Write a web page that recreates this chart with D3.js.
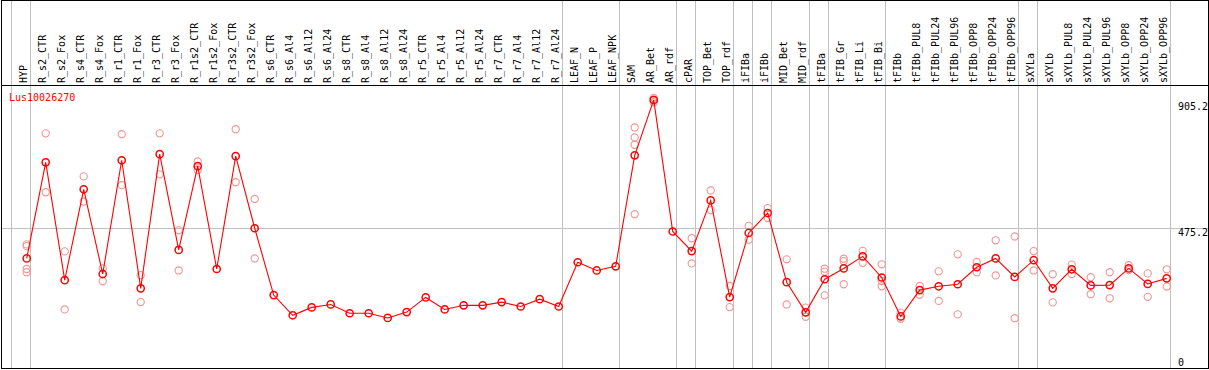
<!DOCTYPE html>
<html><head><meta charset="utf-8">
<script src="https://cdn.jsdelivr.net/npm/d3@7"></script>
<style>body{margin:0;background:#fff}svg{display:block}text{font-family:"DejaVu Sans Mono",monospace;font-size:10px}</style>
</head><body><svg id="c" width="1209" height="370"></svg>
<script>
const categories = ["HYP","R_s2_CTR","R_s2_Fox","R_s4_CTR","R_s4_Fox","R_r1_CTR","R_r1_Fox","R_r3_CTR","R_r3_Fox","R_r1s2_CTR","R_r1s2_Fox","R_r3s2_CTR","R_r3s2_Fox","R_s6_CTR","R_s6_Al4","R_s6_Al12","R_s6_Al24","R_s8_CTR","R_s8_Al4","R_s8_Al12","R_s8_Al24","R_r5_CTR","R_r5_Al4","R_r5_Al12","R_r5_Al24","R_r7_CTR","R_r7_Al4","R_r7_Al12","R_r7_Al24","LEAF_N","LEAF_P","LEAF_NPK","SAM","AR_Bet","AR_rdf","cPAR","TOP_Bet","TOP_rdf","iFIBa","iFIBb","MID_Bet","MID_rdf","tFIBa","tFIB_Gr","tFIB_Li","tFIB_Bi","tFIBb","tFIBb_PUL8","tFIBb_PUL24","tFIBb_PUL96","tFIBb_OPP8","tFIBb_OPP24","tFIBb_OPP96","sXYLa","sXYLb","sXYLb_PUL8","sXYLb_PUL24","sXYLb_PUL96","sXYLb_OPP8","sXYLb_OPP24","sXYLb_OPP96"];
const means = [373,701,299,609,320,708,271,729,402,688,337,722,476,248,179,206,216,186,186,170,190,240,199,213,213,224,209,234,209,360,332,346,725,914,465,398,571,241,460,528,292,189,302,339,380,308,175,265,278,285,343,373,310,367,271,336,281,282,339,286,305];
const replicates = [[421,415,337,326],[800,599],[397,199],[653,567],[339,295],[797,623],[316,224],[800,660],[469,332],[704,675],[],[814,633],[576,373],[],[],[],[],[],[],[],[],[],[],[],[],[],[],[],[],[],[],[],[820,786,761,524],[921,912,906],[],[442,356],[605,538],[279,207],[484,437],[545,511],[370,216],[205,174],[338,328,247],[372,364,285],[399,380,358],[353,296,278],[188,167],[279,249],[329,228],[387,182],[361,326],[435,315],[448,169],[398,332],[319,223],[352,320],[309,251],[326,237],[350,333],[322,242],[336,277]];
const groupEnds = ["HYP","R_r7_Al24","LEAF_NPK","AR_rdf","cPAR","TOP_rdf","iFIBa","iFIBb","MID_rdf","tFIBa","tFIB_Bi","tFIBb_OPP96","sXYLa","sXYLb_OPP96"];
const yTicks = [905.2, 475.2, 0];
const gridValues = [475.2];
const title = "Lus10026270";

const svg = d3.select("#c");
const W = 1209, H = 370;
const x = d3.scalePoint().domain(categories).range([26.7, 26.7 + 19*(categories.length-1)]);
const y = d3.scaleLinear().domain([0, 905.2]).range([367.74, 102.5]);
const px = v => Math.floor(v) + 0.5;
const gray = "#c0c0c0";

// gridline
gridValues.forEach(v => {
  svg.append("line").attr("x1",1).attr("x2",1208).attr("y1",px(y(v))).attr("y2",px(y(v)))
    .attr("stroke",gray).attr("stroke-width",1);
});
// group separators (full height)
const seps = [x(categories[0]) + 3.7 - x.step()].concat(groupEnds.map(c => x(c) + 3.7));
svg.selectAll("line.sep").data(seps).enter().append("line").attr("class","sep")
  .attr("x1",d=>px(d)).attr("x2",d=>px(d)).attr("y1",0).attr("y2",369)
  .attr("stroke",gray).attr("stroke-width",1);

// header separator
svg.append("line").attr("x1",1).attr("x2",1208).attr("y1",85.5).attr("y2",85.5).attr("stroke","#000");
// frame
svg.append("rect").attr("x",1.5).attr("y",0.5).attr("width",1207).attr("height",368)
  .attr("fill","none").attr("stroke","#000");

// column labels
svg.selectAll("text.cat").data(categories).enter().append("text").attr("class","cat")
  .attr("transform",d=>`translate(${x(d)+0.3},83) rotate(-90)`)
  .attr("fill","#000").text(d=>d);

// y labels
svg.selectAll("text.yl").data(yTicks).enter().append("text").attr("class","yl")
  .attr("x",1178).attr("y",d=>Math.min(y(d)+7.8,365.5)).attr("fill","#000").text(d=>d);

// title
svg.append("text").attr("x",9).attr("y",101).attr("fill","#ff0000").text(title);

// replicates
const repPts = [];
categories.forEach((c,i)=>replicates[i].forEach(v=>repPts.push({c,v})));
svg.selectAll("circle.rep").data(repPts).enter().append("circle").attr("class","rep")
  .attr("cx",d=>x(d.c)).attr("cy",d=>y(d.v)).attr("r",3.6)
  .attr("fill","none").attr("stroke","#f09494").attr("stroke-width",1.1);

// mean line
const line = d3.line().x((d,i)=>x(categories[i])).y(d=>y(d));
svg.append("path").datum(means).attr("d",line).attr("fill","none").attr("stroke","#ff0000").attr("stroke-width",1.1);

// mean points
svg.selectAll("circle.m").data(means).enter().append("circle").attr("class","m")
  .attr("cx",(d,i)=>x(categories[i])).attr("cy",d=>y(d)).attr("r",3.6)
  .attr("fill","none").attr("stroke","#ff0000").attr("stroke-width",1.5);
</script></body></html>
